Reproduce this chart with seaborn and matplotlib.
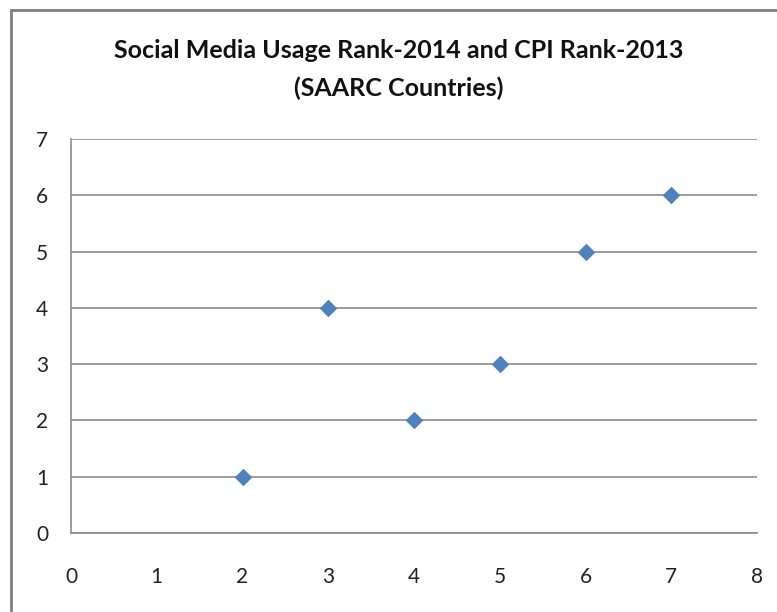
import matplotlib
matplotlib.use("Agg")
import matplotlib.pyplot as plt
import pandas as pd
import seaborn as sns
from matplotlib.patches import Rectangle

# data
social_media_rank = [2, 3, 4, 5, 6, 7]
cpi_rank = [1, 4, 2, 3, 5, 6]
x_ticks = [0, 1, 2, 3, 4, 5, 6, 7, 8]
y_ticks = [0, 1, 2, 3, 4, 5, 6, 7]

df = pd.DataFrame({"social": social_media_rank, "cpi": cpi_rank})

sns.set_style("white")
plt.rcParams['font.family'] = ['Lato', 'DejaVu Sans']

fig = plt.figure(figsize=(7.77, 6.12), dpi=100)
ax = fig.add_axes([71 / 777, 1 - 533 / 612, (757 - 71) / 777, (533 - 139) / 612])

grid_c = "#8c8c8c"
sns.scatterplot(x="social", y="cpi", data=df, marker="D", s=80,
                color="#4f81bd", edgecolor="#4f81bd", linewidth=0, ax=ax, zorder=3)

ax.set_xlim(0, 8)
ax.set_ylim(0, 7)
ax.set_xticks(x_ticks)
ax.set_yticks(y_ticks)
ax.set_xlabel("")
ax.set_ylabel("")
ax.yaxis.grid(True, color=grid_c, linewidth=1.2)
ax.set_axisbelow(True)
for side in ["top", "right"]:
    ax.spines[side].set_visible(False)
for side in ["left", "bottom"]:
    ax.spines[side].set_color(grid_c)
    ax.spines[side].set_linewidth(1.2)
ax.tick_params(axis="both", direction="out", length=6.5, width=1.2, color=grid_c,
               labelsize=15, labelcolor="#222222")
ax.tick_params(axis="x", pad=18)
ax.tick_params(axis="y", pad=10)

fig.text(399 / 777, 1 - 50 / 612, "Social Media Usage Rank-2014 and CPI Rank-2013",
         ha="center", va="center", fontsize=18, fontweight="bold", color="#111111")
fig.text(399 / 777, 1 - 88 / 612, "(SAARC Countries)",
         ha="center", va="center", fontsize=18, fontweight="bold", color="#111111")

# outer chart frame
fig.patches.append(Rectangle((11 / 777, -0.05), 1.0, 1 - 10 / 612 + 0.05,
                             transform=fig.transFigure, fill=False,
                             edgecolor="#7f7f7f", linewidth=2))

fig.savefig("out.png", dpi=100)
